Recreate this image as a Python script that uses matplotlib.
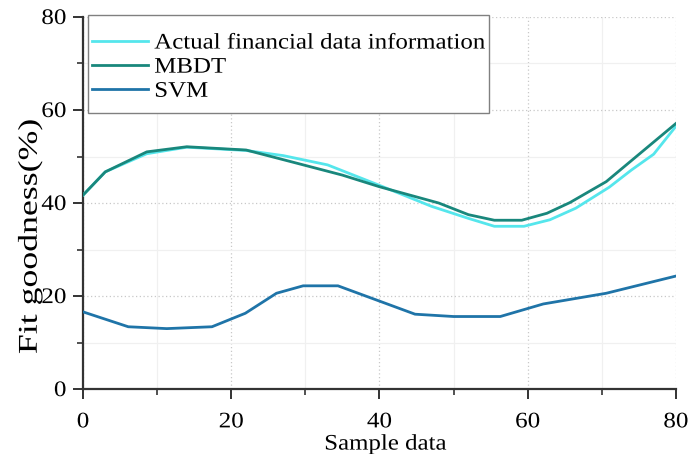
import matplotlib
matplotlib.use("Agg")
import matplotlib.pyplot as plt
from matplotlib.ticker import MultipleLocator
from matplotlib.patheffects import AbstractPathEffect
from matplotlib.transforms import Affine2D
from matplotlib.patches import Rectangle

plt.rcParams['font.family'] = ['Liberation Serif', 'DejaVu Serif']

# Series data
actual_x = [0, 3, 8.6, 14, 22, 27, 33, 40, 47, 52, 55.5, 59.5, 63, 66.5, 71, 74, 77, 80]
actual_y = [41.7, 46.7, 50.6, 52.0, 51.3, 50.2, 48.2, 43.8, 39.3, 36.7, 35.0, 35.0, 36.4, 38.9, 43.4, 47.1, 50.5, 56.5]

mbdt_x = [0, 3, 8.6, 14, 22, 29, 35, 40, 48, 52, 55.5, 59.2, 62.6, 65.7, 70.6, 80]
mbdt_y = [41.7, 46.7, 51.0, 52.1, 51.4, 48.5, 46.0, 43.5, 40.0, 37.5, 36.3, 36.3, 37.8, 40.1, 44.6, 57.1]

svm_x = [0, 6.1, 11.3, 17.4, 21.9, 26.1, 29.7, 34.4, 44.8, 50.0, 56.3, 62.1, 70.6, 80]
svm_y = [16.6, 13.4, 13.0, 13.4, 16.3, 20.6, 22.2, 22.2, 16.1, 15.6, 15.6, 18.3, 20.6, 24.3]

labels = ["Actual financial data information", "MBDT", "SVM"]
colors = ["#55e6ec", "#19877c", "#1f74a8"]


class Widen(AbstractPathEffect):
    """Draw text glyphs widened along the writing direction."""

    def __init__(self, sx, anchor='center'):
        super().__init__()
        self.sx = sx
        self.anchor = anchor

    def draw_path(self, renderer, gc, tpath, affine, rgbFace=None):
        try:
            ext = tpath.get_extents()
            if self.anchor == 'left':
                c = 0.0
            elif self.anchor == 'right':
                c = ext.x1
            else:
                c = 0.5 * (ext.x0 + ext.x1)
        except Exception:
            c = 0.0
        pre = Affine2D().translate(-c, 0).scale(self.sx, 1.0).translate(c, 0)
        renderer.draw_path(gc, tpath, pre + affine, rgbFace)


fig = plt.figure(figsize=(6.89, 4.54), dpi=100)
ax = fig.add_axes([0.1205, 0.143, 0.8605, 0.8196])

ax.plot(actual_x, actual_y, color=colors[0], lw=2.0, label=labels[0], zorder=3)
ax.plot(mbdt_x, mbdt_y, color=colors[1], lw=2.0, label=labels[1], zorder=4)
ax.plot(svm_x, svm_y, color=colors[2], lw=2.0, label=labels[2], zorder=3)

ax.set_xlim(0, 80)
ax.set_ylim(0, 80)
ax.xaxis.set_major_locator(MultipleLocator(20))
ax.xaxis.set_minor_locator(MultipleLocator(10))
ax.yaxis.set_major_locator(MultipleLocator(20))
ax.yaxis.set_minor_locator(MultipleLocator(10))

ax.grid(which='major', color='#c8c8c8', linestyle=(0, (1, 2)), lw=0.9)
ax.grid(which='minor', color='#f0f0f0', linestyle='-', lw=0.9)
ax.set_axisbelow(True)

for side in ['top', 'right']:
    ax.spines[side].set_visible(False)
for side in ['left', 'bottom']:
    ax.spines[side].set_color('#333333')
    ax.spines[side].set_linewidth(1.6)

ax.tick_params(which='major', direction='out', length=7, width=1.4, color='#333333',
               labelsize=16)
ax.tick_params(axis='x', which='major', pad=10.5)
ax.tick_params(axis='y', which='major', pad=5)
ax.tick_params(which='minor', direction='out', length=4.5, width=1.2, color='#333333')

ax.set_xlabel("Sample data", fontsize=16)
ax.xaxis.set_label_coords(0.51, -0.125)
ax.set_ylabel("Fit goodness(%)", fontsize=19.5)
ax.yaxis.set_label_coords(-0.068, 0.41)
ax.xaxis.label.set_path_effects([Widen(1.12, 'center')])
ax.yaxis.label.set_path_effects([Widen(1.32, 'center')])

# Legend frame drawn as its own box, entries placed inside it
ax.add_patch(Rectangle((0.0084, 0.742), 0.676, 0.2634, transform=ax.transAxes,
                       facecolor='white', edgecolor='#808080', lw=1.0,
                       clip_on=False, zorder=5))
leg = ax.legend(loc='upper left', fontsize=16, frameon=False,
                handlelength=2.5, handletextpad=0.3,
                borderpad=0.0, labelspacing=0.16, borderaxespad=0.0,
                bbox_to_anchor=(0.0152, 0.957))
leg.set_zorder(6)
for t in leg.get_texts():
    t.set_path_effects([Widen(1.12, 'left')])

fig.canvas.draw()
for t in ax.xaxis.get_major_ticks():
    t.label1.set_path_effects([Widen(1.13, 'center')])
for t in ax.yaxis.get_major_ticks():
    t.label1.set_path_effects([Widen(1.13, 'right')])

fig.savefig("out.png", dpi=100)
